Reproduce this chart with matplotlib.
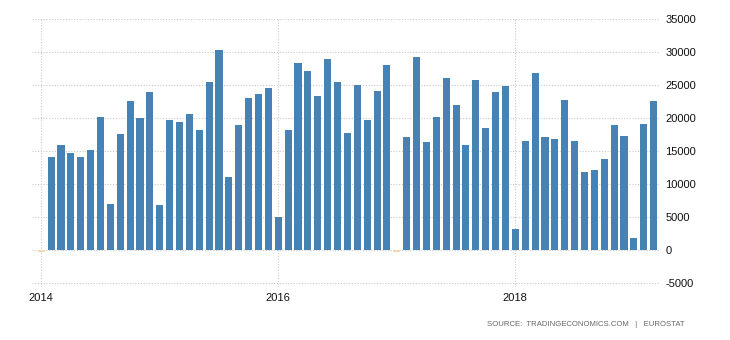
import pandas as pd
import matplotlib
matplotlib.use('Agg')
import matplotlib.pyplot as plt

plt.rcParams['font.family'] = ['Liberation Sans', 'DejaVu Sans']
plt.rcParams['axes.unicode_minus'] = False

# Saldo mensual, enero 2014 - marzo 2019
meses = pd.date_range(start='2014-01-01', end='2019-03-01', freq='MS')
valores_2014 = [-350, 14100, 15900, 14700, 14100, 15150, 20150, 6950, 17600, 22600, 20000, 23950]
valores_2015 = [6800, 19700, 19400, 20600, 18200, 25450, 30300, 11050, 18950, 23050, 23650, 24550]
valores_2016 = [5000, 18200, 28350, 27100, 23350, 28950, 25450, 17750, 25000, 19700, 24100, 28050]
valores_2017 = [-250, 17100, 29250, 16350, 20150, 26050, 21950, 15900, 25750, 18500, 23950, 24850]
valores_2018 = [3200, 16500, 26800, 17100, 16800, 22750, 16500, 11800, 12100, 13800, 18950, 17250]
valores_2019 = [1800, 19100, 22600]
valores = valores_2014 + valores_2015 + valores_2016 + valores_2017 + valores_2018 + valores_2019

df = pd.DataFrame({'Fecha': meses, 'Saldo': valores})
df['n'] = range(len(df))

anios_etiqueta = ['2014', '2016', '2018']
posiciones_anio = [df.index[df['Fecha'] == pd.Timestamp(a + '-01-01')][0] for a in anios_etiqueta]

colores = ['#f0dbb0' if v < 0 else '#4682b4' for v in df['Saldo']]

fig = plt.figure(figsize=(7.3, 3.4), dpi=100)
ax = fig.add_axes([32 / 730, 1 - 287 / 340, 628 / 730, 268 / 340])

ax.bar(df['n'], df['Saldo'], width=0.72, color=colores, zorder=3)

ax.set_xlim(-0.94, 62.65)
ax.set_ylim(-5600, 35000)
ax.set_yticks(range(-5000, 35001, 5000))
ax.set_xticks(posiciones_anio)
ax.set_xticklabels(anios_etiqueta)

ax.yaxis.tick_right()
ax.tick_params(axis='y', length=0, pad=4, labelsize=8, labelcolor='#111111')
ax.tick_params(axis='x', length=0, pad=4, labelsize=8, labelcolor='#111111')
ax.grid(True, color='#c8c8c8', linestyle=(0, (1, 1.5)), linewidth=0.8, zorder=0)
for s in ax.spines.values():
    s.set_visible(False)

fig.text(685 / 730, 1 - 325 / 340, 'SOURCE:  TRADINGECONOMICS.COM   |   EUROSTAT',
         ha='right', va='center', fontsize=5.6, color='#666666')

plt.savefig('out.png', dpi=100)
